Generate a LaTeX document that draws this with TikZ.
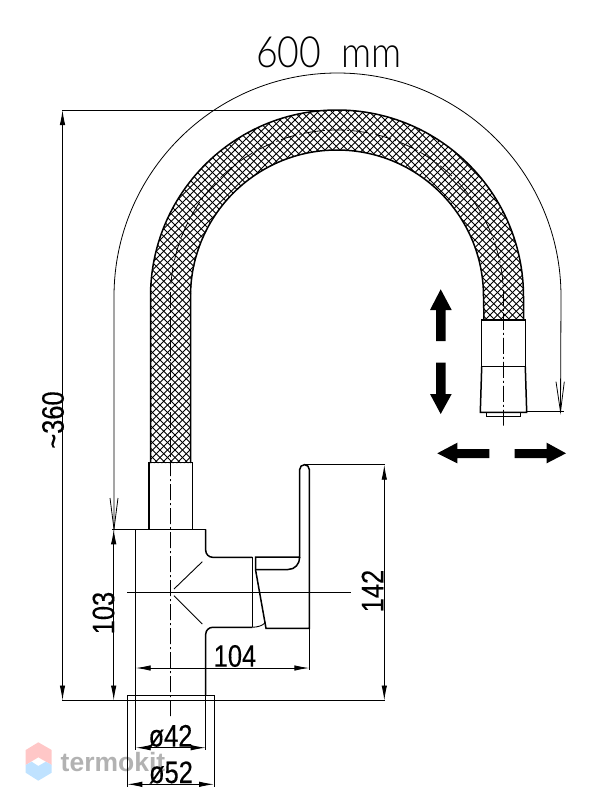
\documentclass[tikz,border=0pt]{standalone}
\usepackage{fontspec}
\usepackage{tikz}
\usetikzlibrary{arrows.meta}
\newfontfamily\cadfont[FakeStretch=0.82,FakeBold=0.25]{Liberation Sans}
\newfontfamily\thinfont[FakeStretch=0.87]{Lato Light}
\newfontfamily\markfont{Liberation Sans}
\tikzset{every node/.style={font=\cadfont\fontsize{31}{31}\selectfont, inner sep=0pt},
  partline/.style={line width=1.5pt},
  thinline/.style={line width=0.9pt},
  dimline/.style={line width=0.9pt, {Latex[length=15pt,width=5.5pt]}-{Latex[length=15pt,width=5.5pt]}},
  axisline/.style={line width=0.8pt, dash pattern=on 16pt off 3pt on 2pt off 3pt},
  meshline/.style={line width=0.75pt},
  openend/.style={line width=0.8pt}}

\begin{document}
\begin{tikzpicture}[x=1pt,y=1pt,yscale=-1]
  \useasboundingbox (0,0) rectangle (610,806);
  % watermark
  \fill[red!22] (38.3,742.3) -- (51.7,750) -- (51.7,765) -- (38.3,757.3) -- (25.7,765) -- (25.7,750) -- cycle;
  \fill[blue!45!cyan!25] (25.7,765) -- (31.7,761.7) -- (38.3,766) -- (45.7,761.7) -- (51.7,765) -- (51.7,772.7) -- (38.3,780.7) -- (25.7,772.7) -- cycle;
  \node[font=\markfont\bfseries\fontsize{26.5}{26.5}\selectfont, text=black!30, anchor=base west] (brand) at (60.5,771) {termokit};
  % hose
  \begin{scope}
    \clip (150.5,463) -- (150.5,296.5) arc[start angle=180,end angle=360,radius=186.5] -- (523.5,320) -- (484,320) -- (484,296.5) arc[start angle=360,end angle=180,radius=146.5] -- (190.5,463) -- cycle;
    \foreach\c in {-320,-312.5,...,1000} \draw[meshline] (\c,0) -- ++(800,800);
    \foreach\c in {250,257.5,...,1000} \draw[meshline] (\c,0) -- ++(-800,800);
  \end{scope}
  \draw[partline] (150.5,463) -- (150.5,296.5) arc[start angle=180,end angle=360,radius=186.5] -- (523.5,320);
  \draw[partline] (190.5,463) -- (190.5,296.5) arc[start angle=180,end angle=360,radius=146.5] -- (484,320);
  % spout head
  \draw[partline] (481.7,320) rectangle (525.3,366.7);
  \draw[partline] (481.7,366.7) -- (480.3,412.3) -- (526.7,412.3) -- (525.3,366.7);
  \draw[thinline] (486.7,412.3) -- (486.7,416) -- (520,416) -- (520,412.3);
  % faucet body
  \draw[partline] (149,529.3) -- (149,462.7) -- (192.3,462.7) -- (192.3,529.3);
  \draw[partline] (205.7,529.3) -- (135.7,529.3) -- (135.7,695);
  \draw[partline, rounded corners=7pt] (205.7,529.3) -- (205.7,557.3) -- (252.3,557.3);
  \draw[partline, rounded corners=7pt] (205.7,695) -- (205.7,627.3) -- (252.3,627.3);
  \draw[partline] (252.3,557.3) -- (252.3,627.3);
  \draw[thinline] (127.3,695) rectangle (214,700.5);
  \draw[thinline] (174,589) -- (202.3,561.7);
  \draw[thinline] (174,595.7) -- (202.3,624);
  % lever
  \draw[partline] (299.7,557) -- (299.7,469.5) arc[start angle=180,end angle=360,radius=4.8] -- (309.3,628.3) -- (266,628.3) -- (255.5,569.5) -- (255.5,557) -- cycle;
  \draw[partline] (255.5,569.5) -- (288,569.5) .. controls (295,569.5) and (299.7,564) .. (299.7,557);
  \draw[thinline] (252.3,627.3) .. controls (258,627) and (262,626) .. (265.5,622.5);
  % axes
  \draw[axisline] (170.5,716) -- (170.5,296.5) arc[start angle=180,end angle=360,radius=166.5] -- (503.5,425.7);
  \draw[thinline] (127.3,592.7) -- (350.7,592.7);
  % motion arrows
  \fill (440.7,289.3) -- (451.7,310) -- (445.7,310) -- (445.7,341) -- (436,341) -- (436,310) -- (430,310) -- cycle;
  \fill (440.7,414) -- (451.7,394) -- (445.7,394) -- (445.7,362.7) -- (436,362.7) -- (436,394) -- (430,394) -- cycle;
  \fill (437.3,453.3) -- (457.3,442.7) -- (457.3,449) -- (489.3,449) -- (489.3,458) -- (457.3,458) -- (457.3,463.3) -- cycle;
  \fill (566,453.3) -- (546.7,442.7) -- (546.7,449) -- (514.7,449) -- (514.7,458) -- (546.7,458) -- (546.7,463.3) -- cycle;
  % length of the hose
  \draw[openend] (114,529) -- (114,296.5) arc[start angle=180,end angle=360,radius=223.5] -- (560.5,411.7);
  \draw[openend] (110,498) -- (114,529) -- (118,498);
  \draw[openend] (556,381.7) -- (560.5,411.7) -- (564.3,381.7);
  \node[font=\thinfont\fontsize{43}{43}\selectfont] (hoselen) at (329,52) {600~~mm};
  % extension lines
  \draw[thinline] (62,110) -- (335,110);
  \draw[thinline] (62,700.5) -- (385,700.5);
  \draw[thinline] (305,464.7) -- (385,464.7);
  \draw[thinline] (112,529.3) -- (135.7,529.3);
  \draw[thinline] (527.3,411.7) -- (564,411.7);
  \foreach\x in {135.7,205.7} \draw[thinline] (\x,695) -- (\x,750);
  \foreach\x in {127.3,214} \draw[thinline] (\x,700) -- (\x,787);
  \draw[thinline] (309.3,628) -- (309.3,670);
  \draw[thinline] (135.7,695) -- (135.7,670);
  % dimensions
  \draw[dimline] (62.5,110) -- (62.5,700.5);
  \draw[dimline] (113.7,529.3) -- (113.7,700.5);
  \draw[dimline] (384.3,464.7) -- (384.3,700.5);
  \draw[dimline] (135.7,668) -- (309.3,668);
  \draw[dimline] (135.7,747.7) -- (205.7,747.7);
  \draw[dimline] (127.3,784.3) -- (214,784.3);
  \node[rotate=90] (height) at (53,420) {\char`\~360};
  \node[rotate=90] (pipe) at (103.5,613) {103};
  \node[rotate=90] (lever) at (372.5,591) {142};
  \node (reach) at (235,656) {104};
  \node (inner) at (170.5,736) {ø42};
  \node (outer) at (171,772.5) {ø52};
\end{tikzpicture}
\end{document}
